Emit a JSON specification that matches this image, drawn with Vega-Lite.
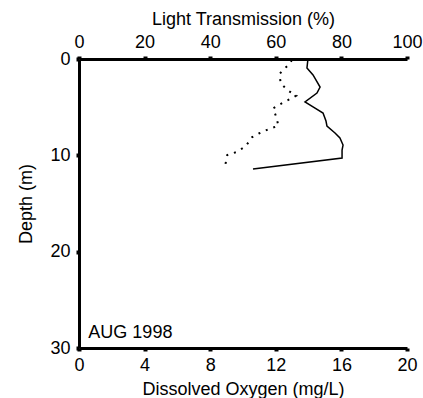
{
  "$schema": "https://vega.github.io/schema/vega-lite/v6.json",
  "width": 328,
  "height": 289,
  "autosize": "none",
  "padding": {"left": 79, "top": 59, "right": 16, "bottom": 50},
  "background": "white",
  "config": {
    "view": {"stroke": null},
    "font": "Liberation Sans",
    "axis": {
      "grid": false,
      "domainColor": "black",
      "domainWidth": 3,
      "tickColor": "black",
      "tickWidth": 4,
      "tickSize": 3,
      "labelColor": "black",
      "labelFont": "Liberation Sans",
      "labelFontSize": 18,
      "titleColor": "black",
      "titleFont": "Liberation Sans",
      "titleFontSize": 18,
      "titleFontWeight": "normal",
      "labelFlush": false,
      "labelOverlap": false
    }
  },
  "datasets": {
    "oxygen": [
      {"depth": 0.0, "do": 13.96},
      {"depth": 0.93, "do": 13.90},
      {"depth": 1.66, "do": 14.27},
      {"depth": 2.91, "do": 14.70},
      {"depth": 3.53, "do": 14.51},
      {"depth": 4.46, "do": 13.78},
      {"depth": 4.98, "do": 14.27},
      {"depth": 5.61, "do": 14.88},
      {"depth": 6.44, "do": 15.06},
      {"depth": 6.96, "do": 15.12},
      {"depth": 7.68, "do": 15.61},
      {"depth": 8.2, "do": 15.91},
      {"depth": 8.93, "do": 16.10},
      {"depth": 9.45, "do": 16.04},
      {"depth": 10.28, "do": 16.04},
      {"depth": 11.42, "do": 10.61}
    ],
    "transmission": [
      {"depth": 0.1, "lt": 64.9},
      {"depth": 0.45, "lt": 64.3},
      {"depth": 0.86, "lt": 63.1},
      {"depth": 1.56, "lt": 61.1},
      {"depth": 2.52, "lt": 61.5},
      {"depth": 3.22, "lt": 63.5},
      {"depth": 3.81, "lt": 66.2},
      {"depth": 4.08, "lt": 64.8},
      {"depth": 4.6, "lt": 61.8},
      {"depth": 5.12, "lt": 59.2},
      {"depth": 5.99, "lt": 60.1},
      {"depth": 6.92, "lt": 60.8},
      {"depth": 7.3, "lt": 57.7},
      {"depth": 7.71, "lt": 55.0},
      {"depth": 8.13, "lt": 52.7},
      {"depth": 9.03, "lt": 50.9},
      {"depth": 9.62, "lt": 48.3},
      {"depth": 9.97, "lt": 45.2},
      {"depth": 11.18, "lt": 44.5}
    ],
    "note": [
      {"label": "AUG 1998", "do": 0.57, "depth": 28.4}
    ]
  },
  "layer": [
    {
      "data": {"name": "oxygen"},
      "mark": {"type": "line", "color": "black", "strokeWidth": 1.5},
      "encoding": {
        "x": {
          "field": "do", "type": "quantitative",
          "scale": {"domain": [0, 20], "nice": false, "zero": false},
          "axis": {"orient": "bottom", "values": [0, 4, 8, 12, 16, 20], "title": "Dissolved Oxygen (mg/L)", "labelPadding": 5, "titlePadding": 6}
        },
        "y": {
          "field": "depth", "type": "quantitative",
          "scale": {"domain": [0, 30], "reverse": true, "nice": false},
          "axis": {"orient": "left", "values": [0, 10, 20, 30], "title": "Depth (m)", "labelPadding": 6, "titlePadding": 14}
        },
        "order": {"field": "depth", "type": "quantitative"}
      }
    },
    {
      "data": {"name": "transmission"},
      "mark": {"type": "line", "color": "black", "strokeWidth": 2, "strokeDash": [2, 6]},
      "encoding": {
        "x": {
          "field": "lt", "type": "quantitative",
          "scale": {"domain": [0, 100], "nice": false, "zero": false},
          "axis": {"orient": "top", "values": [0, 20, 40, 60, 80, 100], "title": "Light Transmission (%)", "labelPadding": 5, "titlePadding": 5}
        },
        "y": {"field": "depth", "type": "quantitative"},
        "order": {"field": "depth", "type": "quantitative"}
      }
    },
    {
      "data": {"name": "note"},
      "mark": {"type": "text", "align": "left", "baseline": "middle", "font": "Liberation Sans", "fontSize": 18, "color": "black"},
      "encoding": {
        "x": {"field": "do", "type": "quantitative", "scale": {"domain": [0, 20], "nice": false, "zero": false}, "axis": null},
        "y": {"field": "depth", "type": "quantitative"},
        "text": {"field": "label"}
      }
    }
  ],
  "resolve": {"scale": {"x": "independent"}, "axis": {"x": "independent"}}
}
